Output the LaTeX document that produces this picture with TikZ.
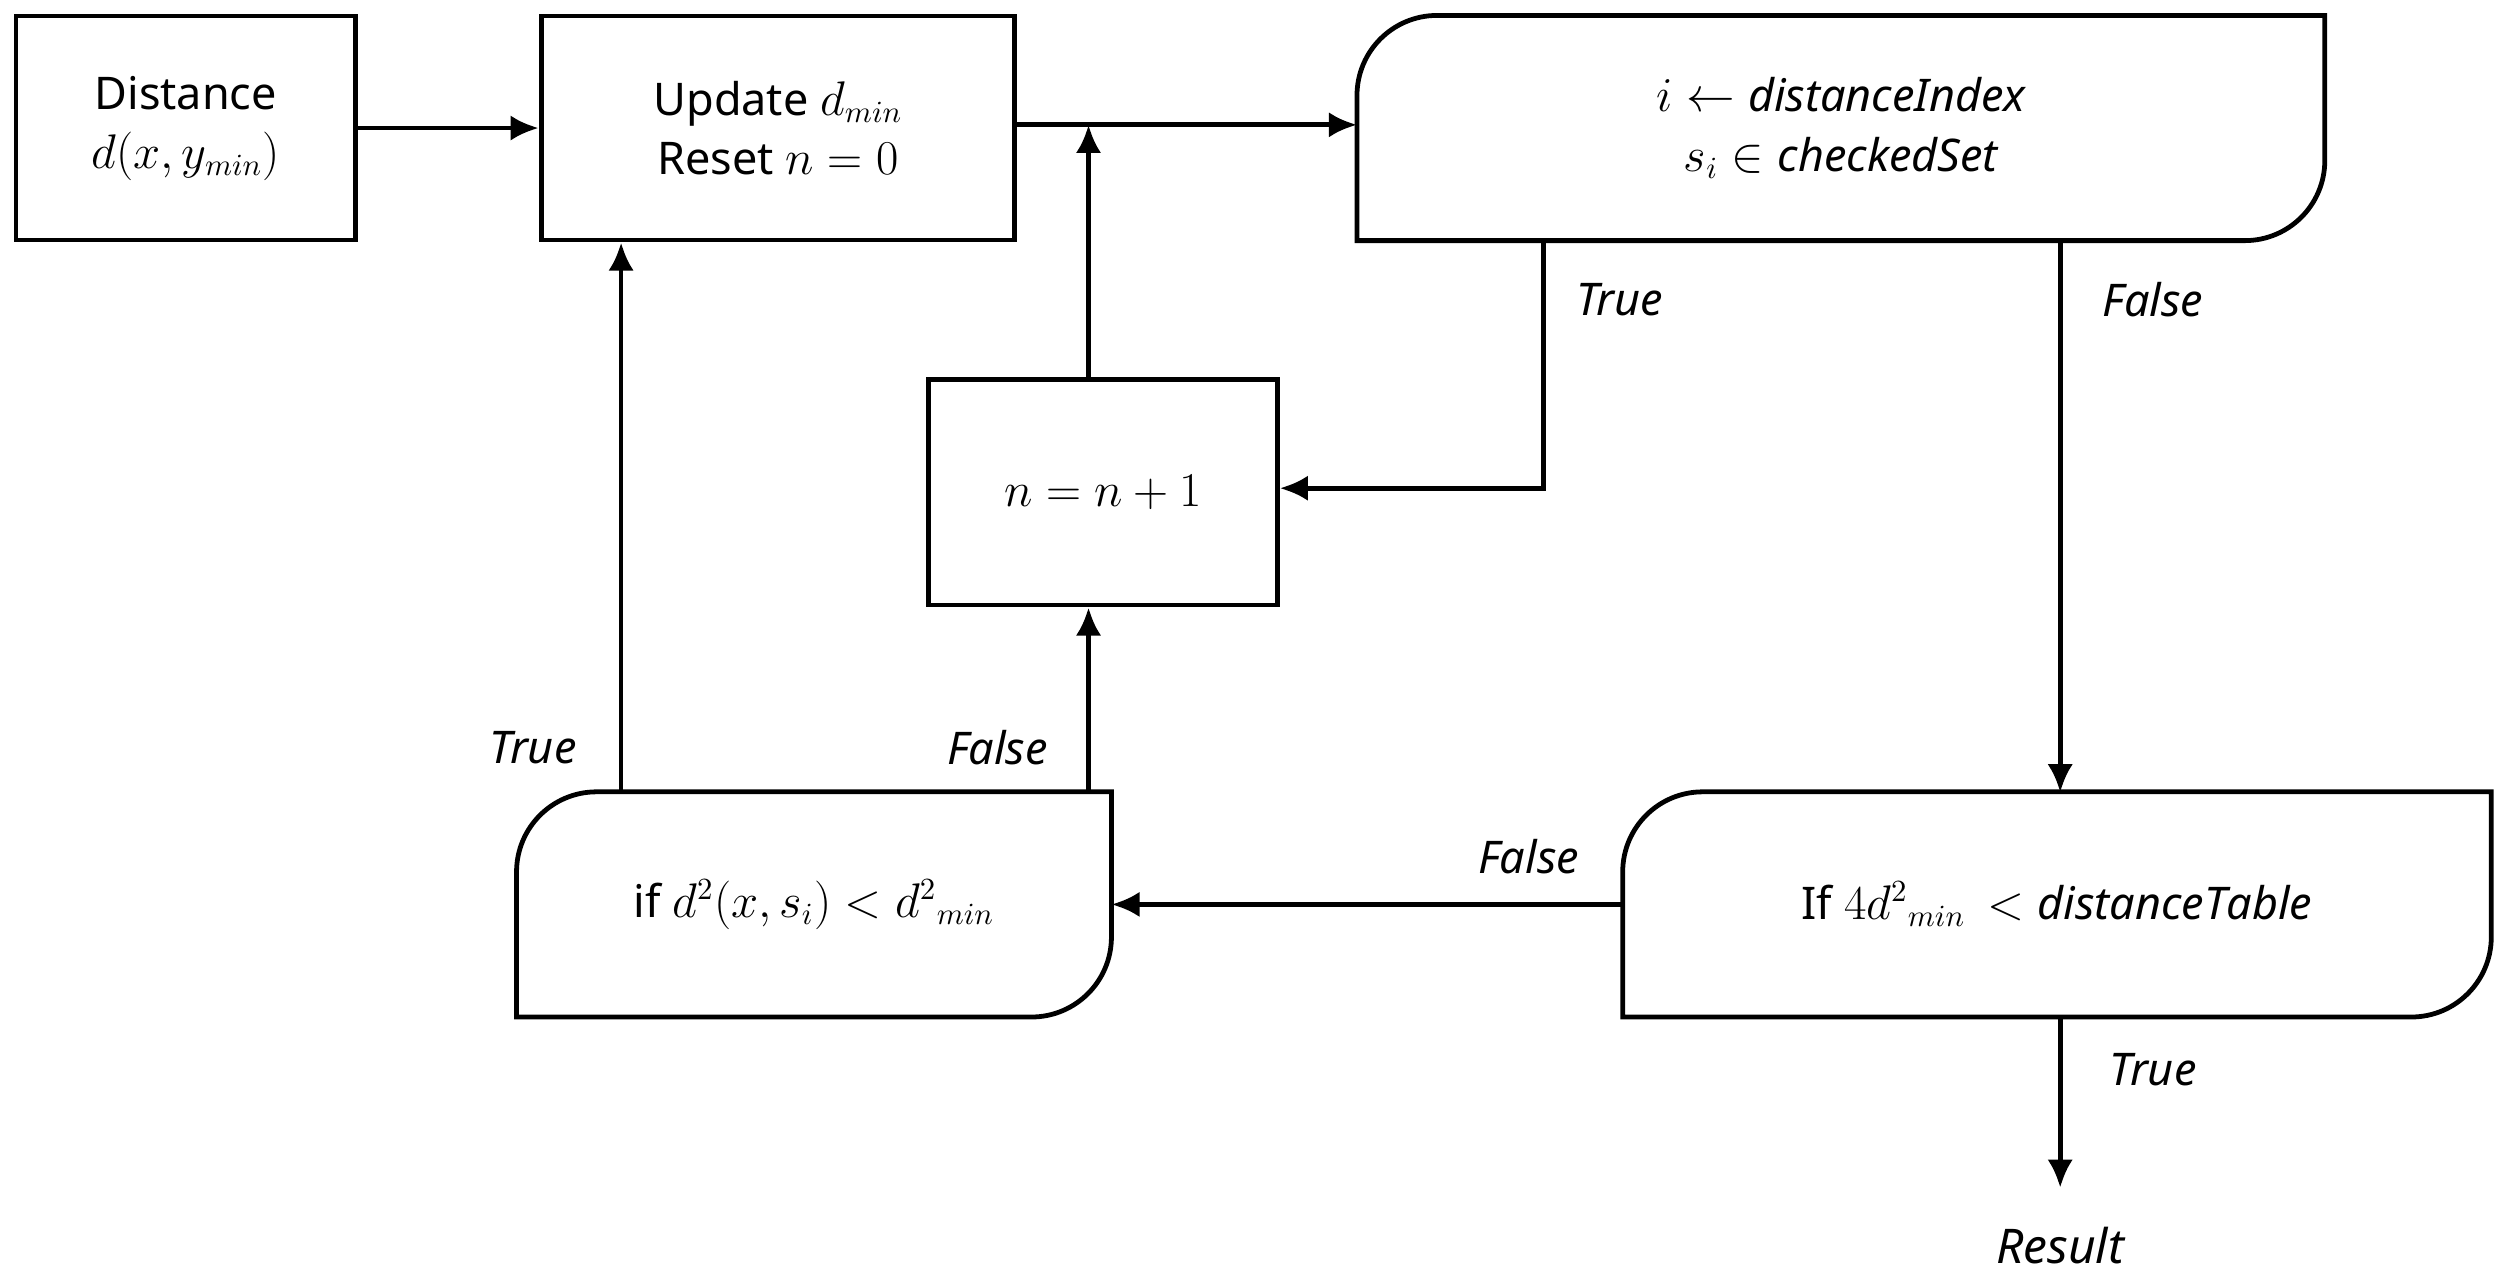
\documentclass[tikz,border=0pt]{standalone}
\usepackage{fontspec}
\setmainfont{Noto Sans}
\usetikzlibrary{arrows.meta}
\begin{document}
\begin{tikzpicture}[x=0.02cm,y=0.02cm,
  box/.style={draw,line width=1.7pt,align=center,font=\fontsize{16}{21}\selectfont,inner sep=0pt},
  free/.style={draw=none,align=center,font=\fontsize{16}{21}\selectfont,inner sep=0pt},
  lab/.style={font=\fontsize{16}{20}\selectfont\itshape},
  con/.style={line width=1.7pt,-{Latex[length=10pt,width=9pt]}},
  ln/.style={line width=1.7pt}]
\useasboundingbox (0,0) rectangle (1568,800);
\newcommand{\rshape}[1]{\draw[ln] ([yshift=-1cm]#1.north west) arc[start angle=180,end angle=90,radius=1cm] -- (#1.north east) -- ([yshift=1cm]#1.south east) arc[start angle=0,end angle=-90,radius=1cm] -- (#1.south west) -- cycle;}
\node[box,minimum width=4.24cm,minimum height=2.8cm] (dist) at (116,720) {Distance\\$d(x,y_{min})$};
\node[box,minimum width=5.92cm,minimum height=2.8cm] (upd) at (486,720) {Update $d_{min}$\\Reset $n=0$};
\node[free,minimum width=12.08cm,minimum height=2.8cm] (chk) at (1150,720) {$i\leftarrow \mathit{distanceIndex}$\\$s_i\in \mathit{checkedSet}$};
\node[box,minimum width=4.36cm,minimum height=2.82cm] (inc) at (689,492.5) {$n=n+1$};
\node[free,minimum width=7.42cm,minimum height=2.8cm] (c1) at (508.5,235) {if $d^2(x,s_i)<{d^2}_{min}$};
\node[free,minimum width=10.84cm,minimum height=2.8cm] (c2) at (1285,235) {If $4{d^2}_{min}\,<\mathit{distanceTable}$};
\node[font=\fontsize{17}{20}\selectfont\bfseries\itshape] (res) at (1287,22) {Result};
\rshape{chk}
\rshape{c1}
\rshape{c2}
\coordinate (j) at (680,722);
\coordinate (t1) at (964,650);
\coordinate (t1b) at (964,495);
\coordinate (f1) at (1287,650);
\coordinate (f1b) at (1287,305);
\coordinate (c1a) at (388,305);
\coordinate (c1b) at (680,305);
\coordinate (c2b) at (1287,165);
\coordinate (end) at (1287,58);
\draw[con] (dist.east) -- (upd.west |- dist.east);
\draw[con] (upd.east |- j) -- (chk.west |- j);
\draw[con] (inc.north -| j) -- (j);
\draw[con] (t1) -- (t1b) -- (inc.east |- t1b);
\draw[con] (f1) -- (f1b);
\draw[con] (c2.west) -- (c1.east);
\draw[con] (c1a) -- (upd.south -| c1a);
\draw[con] (c1b) -- (inc.south -| c1b);
\draw[con] (c2b) -- (end);
\node[lab] at (1012,613) {True};
\node[lab] at (1345,613) {False};
\node[lab] at (333,333) {True};
\node[lab] at (623,333) {False};
\node[lab] at (955,265) {False};
\node[lab] at (1345,132) {True};
\end{tikzpicture}
\end{document}
